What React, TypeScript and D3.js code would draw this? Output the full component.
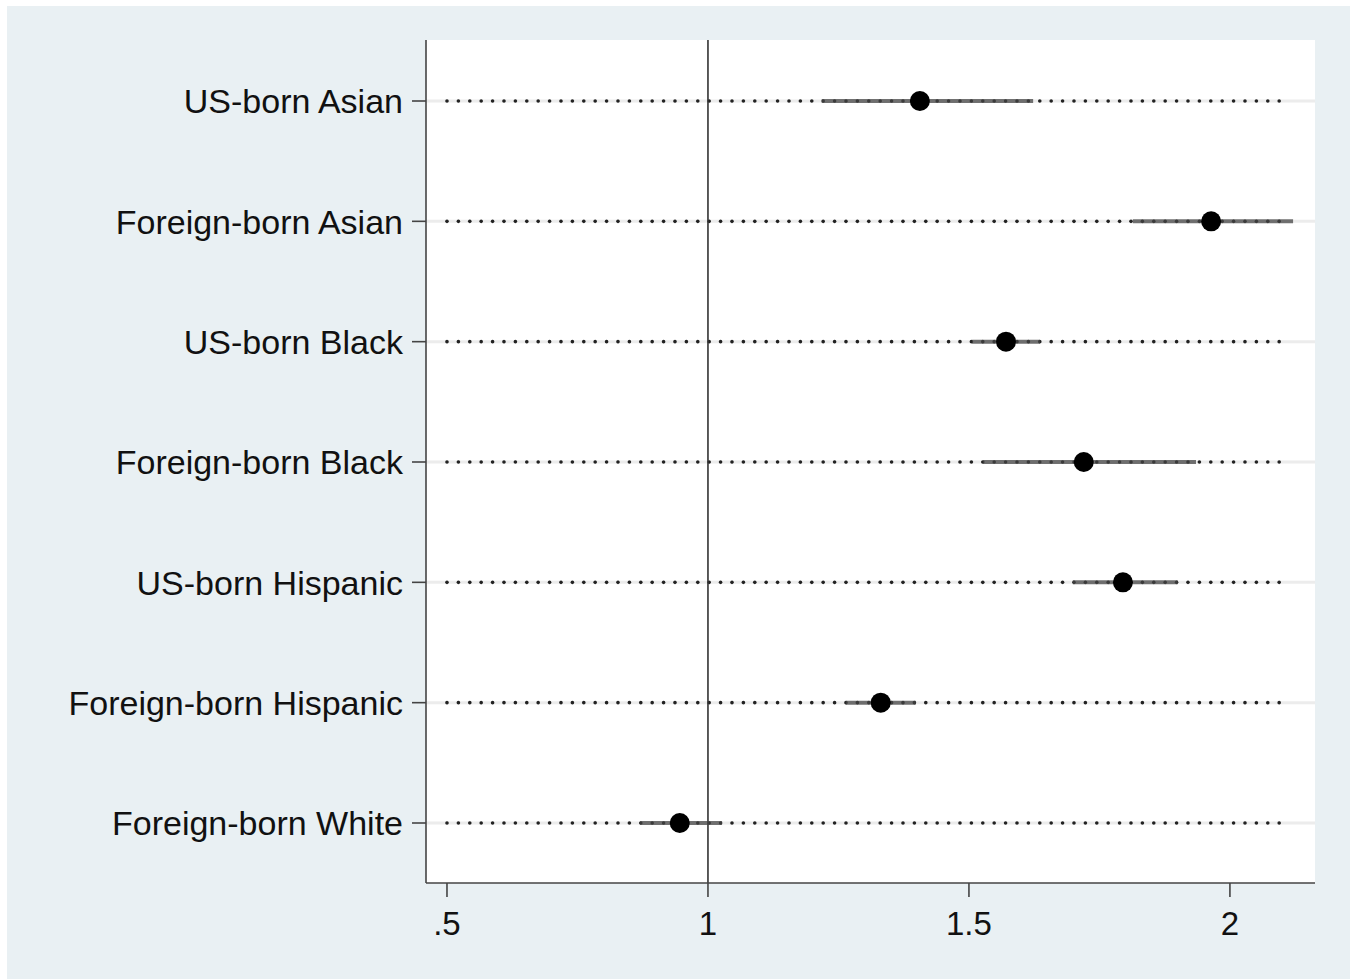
import React from "react";
import * as d3 from "d3";

const groups = [
  "US-born Asian",
  "Foreign-born Asian",
  "US-born Black",
  "Foreign-born Black",
  "US-born Hispanic",
  "Foreign-born Hispanic",
  "Foreign-born White",
];
const estimates = [1.406, 1.964, 1.571, 1.72, 1.795, 1.331, 0.946];
const lower = [1.218, 1.814, 1.506, 1.527, 1.699, 1.264, 0.87];
const upper = [1.623, 2.121, 1.636, 1.935, 1.9, 1.398, 1.027];
const xTicks = [0.5, 1, 1.5, 2];

const W = 1355;
const H = 979;
const font = "'Liberation Sans', Arial, sans-serif";

export default function App() {
  const left = 426, right = 1315, top = 40, bottom = 883;

  const x = d3.scaleLinear().domain([0.4598, 2.163]).range([left, right]);
  const y = d3.scalePoint().domain(groups).range([101, 823]);
  const fmt = (d: number) => (d < 1 ? d3.format(".1f")(d).replace(/^0/, "") : d3.format("")(d));

  const dotXs = d3.range(0, 74).map((i) => x(0.5) + i * 11.4);

  return (
    <svg width={W} height={H} style={{ position: "absolute", left: 0, top: 0 }}>
      <rect x={7} y={6} width={1343} height={973} fill="#e9f0f3" />
      <rect x={left} y={top} width={right - left} height={bottom - top} fill="#ffffff" />

      {/* light grid lines per row */}
      {groups.map((g) => (
        <line key={"g" + g} x1={left} x2={right} y1={y(g)} y2={y(g)} stroke="#ececec" strokeWidth={3} />
      ))}

      {/* dotted guide lines */}
      {groups.map((g) => (
        <g key={"d" + g}>
          {dotXs.filter((d) => d <= x(2.1)).map((dx, i) => (
            <circle key={i} cx={dx} cy={y(g)} r={1.8} fill="#222" />
          ))}
        </g>
      ))}

      {/* reference line at 1 */}
      <line x1={x(1)} x2={x(1)} y1={top} y2={bottom} stroke="#333" strokeWidth={1.6} />

      {/* confidence intervals */}
      {groups.map((g, i) => (
        <line key={"ci" + g} x1={x(lower[i])} x2={x(upper[i])} y1={y(g)} y2={y(g)} stroke="#444" strokeOpacity={0.75} strokeWidth={4} />
      ))}

      {/* point estimates */}
      {groups.map((g, i) => (
        <circle key={"p" + g} cx={x(estimates[i])} cy={y(g)} r={10} fill="#000" />
      ))}

      {/* y axis */}
      <line x1={left} x2={left} y1={top} y2={bottom} stroke="#444" strokeWidth={1.6} />
      {groups.map((g) => (
        <g key={"yt" + g}>
          <line x1={left - 14} x2={left} y1={y(g)} y2={y(g)} stroke="#444" strokeWidth={1.6} />
          <text x={left - 23} y={y(g)} dy="0.36em" textAnchor="end" fontFamily={font} fontSize={34} fill="#111">
            {g}
          </text>
        </g>
      ))}

      {/* x axis */}
      <line x1={left} x2={right} y1={bottom} y2={bottom} stroke="#444" strokeWidth={1.6} />
      {xTicks.map((t) => (
        <g key={"xt" + t}>
          <line x1={x(t)} x2={x(t)} y1={bottom} y2={bottom + 14} stroke="#444" strokeWidth={1.6} />
          <text x={x(t)} y={935} textAnchor="middle" fontFamily={font} fontSize={33} fill="#111">
            {fmt(t)}
          </text>
        </g>
      ))}
    </svg>
  );
}
